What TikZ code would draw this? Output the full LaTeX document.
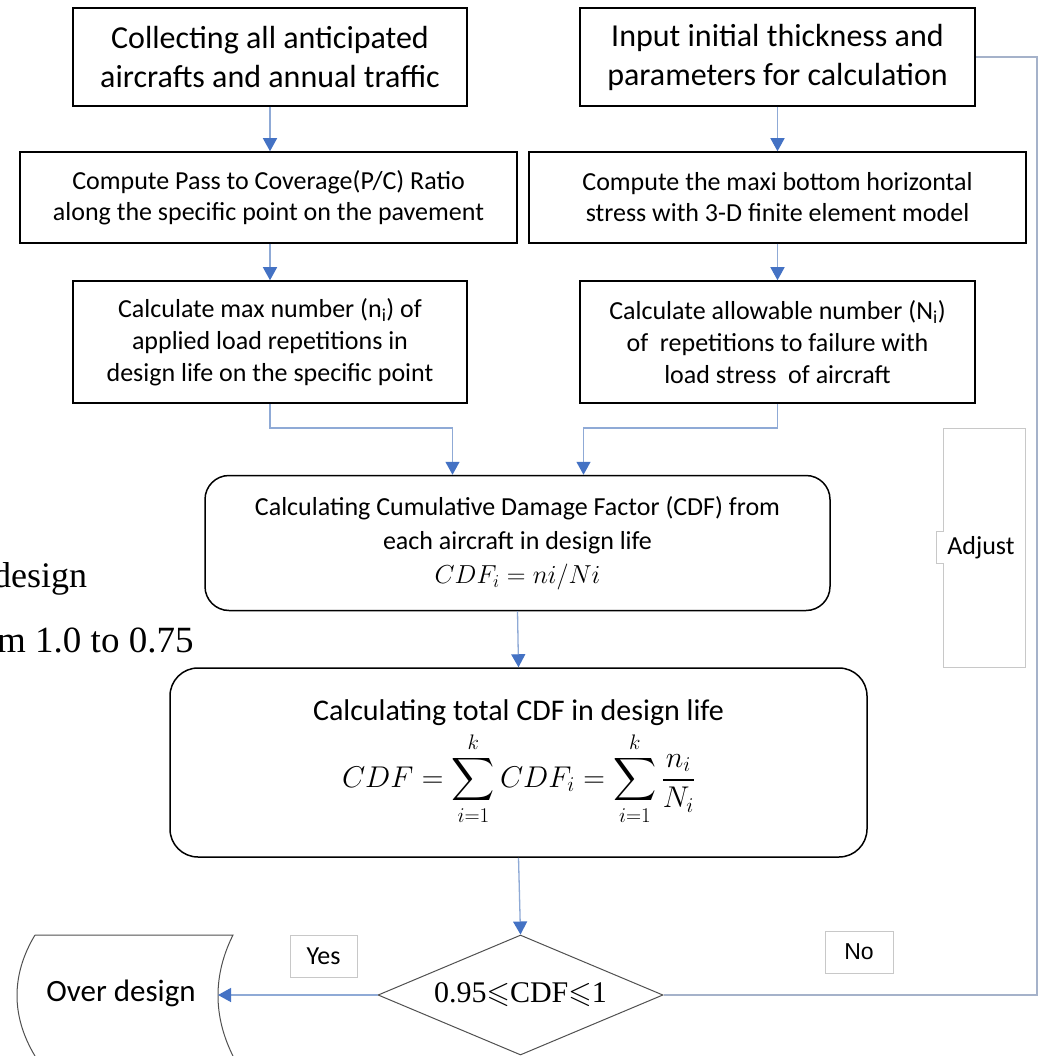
\RequirePackage{fix-cm}
\documentclass[tikz,border=0pt]{standalone}
\usepackage{amsmath,amssymb}
\usepackage{fontspec}
\setmainfont{Carlito}
\newfontfamily\serifroman{Liberation Serif}
\newfontfamily\arialike{Liberation Sans}
\usetikzlibrary{arrows.meta,shapes.geometric,calc}

\definecolor{linkc}{RGB}{143,170,214}
\definecolor{tipc}{RGB}{68,114,196}
\definecolor{loopc}{RGB}{165,178,202}
\definecolor{paleb}{RGB}{200,200,200}
\definecolor{edgeg}{RGB}{80,80,80}

\newcommand\fsz[2]{\fontsize{#1}{#2}\selectfont}

\tikzset{
  x=1pt, y=-1pt,
  stepbox/.style={draw=black, line width=1.5pt, align=center, inner sep=0pt, fill=white},
  bigtxt/.style={font=\fsz{32}{39}},
  midtxt/.style={font=\fsz{26}{31}},
  roundbox/.style={stepbox, rounded corners=24pt},
  flow/.style={draw=linkc, line width=1.3pt,
    -{Triangle[length=13pt,width=14pt,color=tipc,fill=tipc]}},
  loopline/.style={draw=loopc, line width=1.5pt},
  tagbox/.style={draw=paleb, line width=0.8pt, inner sep=0pt, font=\fsz{26}{30}}
}

\begin{document}
\begin{tikzpicture}
\useasboundingbox[fill=white] (0,0) rectangle (1039,1056);

% left column
\node[stepbox, bigtxt, minimum width=394, minimum height=98] (a1) at (270,57)
  {Collecting all anticipated\\aircrafts and annual traffic};
\node[stepbox, midtxt, minimum width=497, minimum height=91] (a2) at (268.5,197.5)
  {Compute Pass to Coverage(P/C) Ratio\\along the specific point on the pavement};
\node[stepbox, font=\fsz{26}{32}, minimum width=394, minimum height=122] (a3) at (270,342)
  {Calculate max number (n\textsubscript{i}) of\\applied load repetitions in\\design life on the specific point};

% right column
\node[stepbox, bigtxt, minimum width=395, minimum height=98] (b1) at (777.5,57)
  {Input initial thickness and\\parameters for calculation};
\node[stepbox, midtxt, minimum width=497, minimum height=91] (b2) at (777.5,197.5)
  {Compute the maxi bottom horizontal\\stress with 3-D finite element model};
\node[stepbox, font=\fsz{26}{32}, minimum width=395, minimum height=122] (b3) at (777.5,342)
  {Calculate allowable number (N\textsubscript{i})\\of\ \ repetitions to failure with\\load stress\ \ of aircraft};

% damage factors
\node[roundbox, font=\fsz{26}{34}, minimum width=625, minimum height=135] (cdfi) at (517.5,543)
  {Calculating Cumulative Damage Factor (CDF) from\\each aircraft in design life\\$CDF_i = ni/Ni$};
\node[roundbox, rounded corners=28pt, font=\fsz{30}{34}, minimum width=697, minimum height=189] (cdft) at (518.5,762.5)
  {Calculating total CDF in design life\\[6pt]
   {\fsz{30}{34}$\displaystyle CDF=\sum_{i=1}^{k} CDF_i=\sum_{i=1}^{k}\frac{n_i}{N_i}$}};

% decision
\node[diamond, draw=edgeg, line width=1pt, inner sep=0pt, minimum width=285, minimum height=120] (check) at (520.5,995) {};
\node[font=\serifroman\fsz{30}{34}, inner sep=0pt] (checktxt) at (check.center) {0.95$\leqslant$CDF$\leqslant$1};

% over design terminal
\draw[edgeg, line width=1pt] (35,935) -- (233,935)
  .. controls (213,975) and (213,1016) .. (233,1056);
\draw[edgeg, line width=1pt] (35,935) .. controls (11,975) and (11,1016) .. (35,1056);
\node[font=\fsz{31}{34}] (over) at (121,993) {Over design};
\coordinate (overin) at (218,995);

% labels
\node[tagbox, minimum width=67, minimum height=42] (yes) at (323.5,956) {Yes};
\node[tagbox, font=\arialike\fsz{23}{28}, minimum width=68, minimum height=42] (no) at (859,952) {No};

% adjust text frame
\draw[paleb, line width=0.8pt] (943,428) -- (1025,428) -- (1025,667) -- (943,667)
  -- (943,563) -- (936,563) -- (936,531) -- (943,531) -- cycle;
\node[font=\fsz{26}{30}] (adjust) at (981,548) {Adjust};

% fragments of neighbouring text
\node[anchor=base west, font=\serifroman\fsz{36}{40}, inner sep=0pt] (frag1) at (-7,587) {design};
\node[anchor=base west, font=\serifroman\fsz{37}{40}, inner sep=0pt] (frag2) at (-3,652) {m 1.0 to 0.75};

% connectors
\draw[flow] (a1.south) -- (a1.south |- a2.north);
\draw[flow] (b1.south) -- (b1.south |- b2.north);
\draw[flow] (a2.south -| a1.south) -- (a3.north);
\draw[flow] (b3.north |- b2.south) -- (b3.north);
\draw[flow] (a3.south) -- (a3.south |- 0,428) -| ([xshift=-65pt]cdfi.north);
\draw[flow] (b3.south) -- (b3.south |- 0,428) -| ([xshift=66pt]cdfi.north);
\draw[flow] (cdfi.south) -- (cdft.north);
\draw[flow] (cdft.south) -- (check.north);
\draw[flow] (check.west) -- (overin);
\coordinate (turn) at (1037,995);
\draw[loopline] (check.east) -- (turn) |- (b1.east);
\end{tikzpicture}
\end{document}
